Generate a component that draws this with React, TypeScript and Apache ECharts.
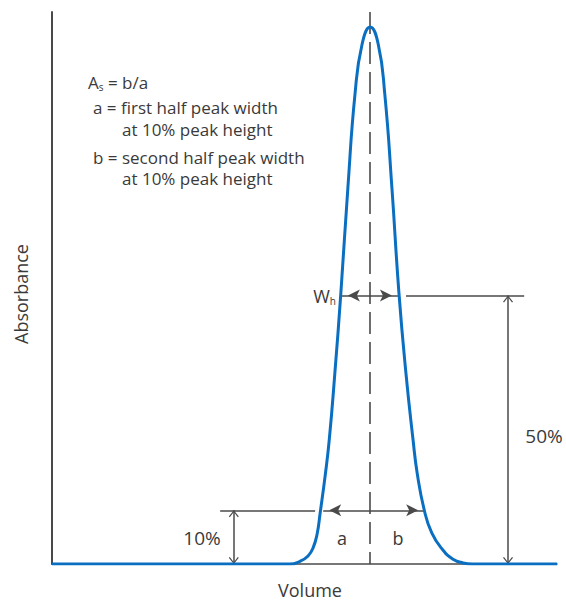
import React, { useEffect, useRef } from 'react';
import * as echarts from 'echarts';

// Peak profile (volume in arbitrary units, absorbance in % of peak height)
const volume = [0, 47.1, 49.1, 50.7, 51.7, 52.5, 53.1, 54.1, 54.9, 56.0, 57.2, 58.6, 60.0, 61.4, 63.0, 64.6, 65.9, 67.3, 68.7, 70.1, 71.5, 72.3, 73.7, 75.2, 77.4, 79.4, 81.4, 83.2, 100];
const absorbance = [0, 0, 0.5, 1.5, 3.0, 5.6, 9.5, 16.5, 23.1, 35.4, 50.5, 70.2, 87.5, 96.8, 100, 96.8, 87.5, 70.2, 50.5, 35.4, 23.1, 17.0, 10.1, 5.8, 2.6, 0.9, 0.2, 0, 0];

const peakCenter = 63;
const yTop = 102.8;
const halfHeight = 50;
const tenthHeight = 10;
const halfWidthArrow = [57.4, 68.5];
const halfRefLine = [70.1, 93.5];
const halfArrowX = 90.3;
const tenthRefLine = [33.3, 52.1];
const tenthArrowX = 36.0;
const tenthWidthArrow = [53.7, 73.7];

const FONT = "'Open Sans', 'Noto Sans', sans-serif";
const TEXT = '#3a3a3a';
const GREY = '#4a4a4a';
const BLUE = '#0b6fc1';

const chevron = 'path://M5,0L10,9L9,10L5,2.6L1,10L0,9Z';
const filledEnd = { symbol: 'arrow', symbolSize: [9, 12], symbolOffset: [0, '50%'] };
const openEnd = { symbol: chevron, symbolSize: [10, 7], symbolOffset: [0, '50%'] };
const plainEnd = { symbol: 'none' };

export default function App() {
  const ref = useRef<HTMLDivElement>(null);
  useEffect(() => {
    document.body.style.margin = '0';
    const chart = echarts.init(ref.current!, null, { renderer: 'svg' });
    const option: any = {
      animation: false,
      grid: { left: 52, right: 9, top: 12, bottom: 38, containLabel: false, outerBoundsMode: 'none' },
      xAxis: {
        type: 'value', min: 0, max: 100,
        axisLine: { show: true, lineStyle: { color: GREY, width: 1.5 } },
        axisTick: { show: false }, axisLabel: { show: false }, splitLine: { show: false },
      },
      yAxis: {
        type: 'value', min: 0, max: yTop,
        axisLine: { show: true, lineStyle: { color: GREY, width: 2 } },
        axisTick: { show: false }, axisLabel: { show: false }, splitLine: { show: false },
      },
      series: [
        {
          type: 'line',
          data: volume.map((v, i) => [v, absorbance[i]]),
          smooth: 0.5,
          symbol: 'none',
          z: 3,
          lineStyle: { color: BLUE, width: 3 },
          emphasis: { disabled: true },
          markLine: {
            silent: true,
            z: 2,
            label: { show: false },
            emphasis: { disabled: true },
            lineStyle: { color: GREY, width: 1.5, type: 'solid' },
            data: [
              [{ coord: [peakCenter, yTop], ...plainEnd, lineStyle: { type: [22, 8], width: 1.6 } }, { coord: [peakCenter, 0], ...plainEnd }],
              [{ coord: [halfWidthArrow[0], halfHeight], ...filledEnd }, { coord: [halfWidthArrow[1], halfHeight], ...filledEnd }],
              [{ coord: [halfRefLine[0], halfHeight], ...plainEnd }, { coord: [halfRefLine[1], halfHeight], ...plainEnd }],
              [{ coord: [halfArrowX, halfHeight], ...openEnd }, { coord: [halfArrowX, 0], ...openEnd }],
              [{ coord: [tenthRefLine[0], tenthHeight], ...plainEnd }, { coord: [tenthRefLine[1], tenthHeight], ...plainEnd }],
              [{ coord: [tenthArrowX, tenthHeight], ...openEnd }, { coord: [tenthArrowX, 0], ...openEnd }],
              [{ coord: [tenthWidthArrow[0], tenthHeight], ...filledEnd }, { coord: [tenthWidthArrow[1], tenthHeight], ...filledEnd }],
            ],
          },
        },
      ],
      graphic: [
        { type: 'text', x: 310, y: 590, style: { text: 'Volume', font: `18px ${FONT}`, lineHeight: 18, fill: TEXT, align: 'center', verticalAlign: 'middle' } },
        { type: 'text', x: 21, y: 294, rotation: Math.PI / 2, style: { text: 'Absorbance', font: `18px ${FONT}`, fill: TEXT, align: 'center', verticalAlign: 'middle' } },
        {
          type: 'text', x: 88, y: 82,
          style: {
            text: '{m|A}{s|s}{m| = b/a}', verticalAlign: 'middle', fill: TEXT,
            rich: {
              m: { fontFamily: FONT, fontSize: 17, color: TEXT, lineHeight: 20 },
              s: { fontFamily: FONT, fontSize: 10, color: TEXT, lineHeight: 12, verticalAlign: 'bottom' },
            },
          },
        },
        { type: 'text', x: 93, y: 107, style: { text: 'a = first half peak width', font: `17px ${FONT}`, fill: TEXT, verticalAlign: 'middle' } },
        { type: 'text', x: 122, y: 129, style: { text: 'at 10% peak height', font: `17px ${FONT}`, fill: TEXT, verticalAlign: 'middle' } },
        { type: 'text', x: 93, y: 157, style: { text: 'b = second half peak width', font: `17px ${FONT}`, fill: TEXT, verticalAlign: 'middle' } },
        { type: 'text', x: 122, y: 178, style: { text: 'at 10% peak height', font: `17px ${FONT}`, fill: TEXT, verticalAlign: 'middle' } },
        {
          type: 'text', x: 336, y: 296,
          style: {
            text: '{m|W}{s|h}', align: 'right', verticalAlign: 'middle', fill: TEXT,
            rich: {
              m: { fontFamily: FONT, fontSize: 18, color: TEXT, lineHeight: 20 },
              s: { fontFamily: FONT, fontSize: 10, color: TEXT, lineHeight: 12, verticalAlign: 'bottom' },
            },
          },
        },
        { type: 'text', x: 202, y: 538, style: { text: '10%', font: `19px ${FONT}`, fill: TEXT, align: 'center', verticalAlign: 'middle' } },
        { type: 'text', x: 544, y: 436, style: { text: '50%', font: `19px ${FONT}`, fill: TEXT, align: 'center', verticalAlign: 'middle' } },
        { type: 'text', x: 342, y: 538, style: { text: 'a', font: `18px ${FONT}`, fill: TEXT, align: 'center', verticalAlign: 'middle' } },
        { type: 'text', x: 398, y: 538, style: { text: 'b', font: `18px ${FONT}`, fill: TEXT, align: 'center', verticalAlign: 'middle' } },
      ],
    };
    chart.setOption(option);
    return () => chart.dispose();
  }, []);
  return <div ref={ref} style={{ width: 566, height: 602 }} />;
}
